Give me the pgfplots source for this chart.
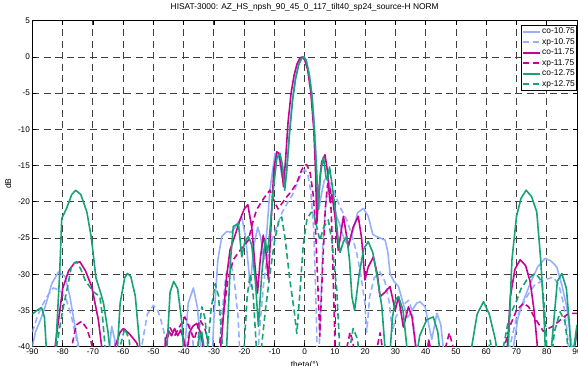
\documentclass[border=0pt]{standalone}
\usepackage{fontspec}
\setmainfont{Liberation Sans}
\usepackage{pgfplots}
\pgfplotsset{compat=1.18}
\definecolor{cblue}{RGB}{150,176,255}
\definecolor{cmag}{RGB}{200,0,150}
\definecolor{cgreen}{RGB}{22,163,120}
\begin{document}
\begin{tikzpicture}
\begin{axis}[
  name=ax,
  scale only axis,
  width=544.6pt, height=325.8pt,
  xmin=-90, xmax=90, ymin=-40, ymax=5,
  xtick={-90,-80,...,90},
  xticklabels={-90,-80,-70,-60,-50,-40,-30,-20,-10,0,10,20,30,40,50,60,70,80,90},
  ytick={-40,-35,...,5},
  yticklabels={-40,-35,-30,-25,-20,-15,-10,-5,0,5},
  tick align=inside, xtick pos=both, ytick pos=both,
  major tick length=4pt,
  tick style={black, line width=0.8pt},
  ticklabel style={font=\fontsize{8.2}{9}\selectfont},
  xticklabel style={yshift=1pt},
  yticklabel style={xshift=1pt},
  axis line style={black, line width=1pt},
  grid=major,
  major grid style={black!75, line width=0.9pt, dash pattern=on 7pt off 4.5pt},
  title={HISAT-3000: AZ\_HS\_npsh\_90\_45\_0\_117\_tilt40\_sp24\_source-H NORM},
  title style={font=\fontsize{8.4}{9}\selectfont, at={(0.5,1)}, anchor=south, yshift=2pt, inner sep=1pt},
  xlabel={theta(°)},
  xlabel style={font=\fontsize{8.4}{9}\selectfont, at={(axis description cs:0.5,0)}, anchor=north, yshift=-15pt, inner sep=0pt},
  ylabel={dB},
  ylabel style={font=\fontsize{8.4}{9}\selectfont, at={(axis description cs:-0.0448,0.5)}, anchor=center, rotate=0},
  legend style={at={(1,1)}, anchor=north east, yshift=-4.5pt, draw=black, line width=0.6pt,
    font=\fontsize{8.4}{9.6}\selectfont, inner xsep=1pt, inner ysep=1.5pt, row sep=1.6pt,
    nodes={inner sep=0.8pt}},
  legend cell align=left,
  legend image code/.code={\draw[#1, line width=2pt] plot coordinates {(0pt,0pt) (17pt,0pt)};},
  every axis plot/.append style={line width=1.6pt, line join=round},
]
% co-10.75
\addplot[cblue] coordinates {
(-90,-40) (-89,-38) (-87.5,-36.5) (-85.8,-34.5) (-83.6,-31.3) (-81.4,-29.7) (-79.2,-30.3) (-77.6,-33.1) (-76,-37) (-74.3,-41) (-73,-45)
(-65,-45) (-64.5,-40) (-63.8,-37.2) (-62.8,-39) (-62,-45)
(-40,-45) (-39.6,-40) (-38.5,-34) (-36.8,-31.9) (-35.5,-34.5) (-34.3,-40) (-33.5,-45)
(-31,-45) (-30,-36) (-28.7,-28) (-27.4,-24.8) (-25.8,-24.1) (-24.2,-24.2) (-22.5,-23.2) (-20.8,-22.1) (-19.5,-25) (-18,-31.7) (-16.8,-26) (-15.5,-23.5) (-14.5,-25) (-13.5,-28) (-12.5,-24) (-11.5,-18.4) (-9.8,-13.3) (-8.6,-13.6) (-7.5,-16.5) (-6.5,-17.5) (-5.8,-15) (-5,-10) (-4,-5.5) (-3,-2.7) (-2,-1) (-1,-0.1) (-0.3,0) (0.5,-0.4) (1.5,-2.3) (2.5,-5.5) (3.3,-10) (4,-16) (4.7,-21) (5.5,-19) (6.5,-17) (7.5,-16.5) (8.4,-17.9) (9.5,-20) (10.5,-22) (11.5,-23) (12.5,-24.5) (13.5,-25.5) (14.5,-26) (16,-24) (17.5,-21.5) (19.4,-20.9) (21,-22) (22.5,-24.5) (23.8,-24.8) (26.6,-25.3) (27.5,-27) (28.2,-29.9) (29.5,-31) (31,-31.7) (32.5,-34) (34,-36) (35.5,-35) (37,-34) (38.1,-33.8) (39.8,-34.5) (41,-37) (42,-39) (43.7,-35.4) (45,-37) (46,-41) (47,-45)
(68,-45) (69,-40) (70.5,-36) (72,-34) (74.5,-31.3) (77,-29) (79.5,-27.8) (81.5,-28.2) (83.3,-29) (85,-31.5) (86.6,-34.5) (88.3,-40) (89,-45) (90,-45)
};
\addlegendentry{co-10.75}
% xp-10.75
\addplot[cblue, dash pattern=on 6pt off 3.5pt] coordinates {
(-90,-38) (-88.5,-36) (-87,-34.5) (-85,-33) (-83.1,-31.9) (-80.9,-32.2) (-78.7,-33.6) (-77,-36) (-75.4,-39.1) (-74.5,-42) (-73.5,-45)
(-55,-45) (-53.9,-40) (-52,-35.5) (-50,-34.3) (-48.8,-34.8) (-47.8,-35.9) (-46.5,-38) (-45.5,-41) (-44.5,-45)
(-40,-45) (-39,-40) (-38,-37) (-37,-39) (-36,-45)
(-29,-45) (-27.5,-36) (-26,-30) (-24.7,-28.3) (-23.5,-30) (-22,-36) (-21,-45)
(-16,-45) (-15,-38) (-13.5,-31) (-12.5,-28) (-11,-25.5) (-9.2,-23.4) (-7.5,-21.5) (-5.5,-20) (-4,-19) (-2.5,-17.5) (-1,-16) (0.1,-15.6) (1,-16.2) (2,-18.5) (3,-24) (3.8,-35) (4.3,-45) (5,-38) (6,-26) (7,-20) (8,-17.5) (9,-17.4) (10,-19) (12,-21) (13.9,-22.5) (15.5,-24.5) (17.2,-27.1) (18.5,-30) (19.9,-34) (20.5,-38) (21.5,-33) (23,-30.5) (24.9,-29.7) (26.5,-31) (28,-34) (29,-38) (30,-36) (32,-34.5) (34.3,-33.6) (35.5,-35) (36.5,-39) (37.5,-45)
(67,-45) (67.8,-40) (70,-36) (73.4,-33.1) (76,-31.5) (79,-30.8) (82.2,-30.4) (84,-31.5) (85.5,-34) (86.5,-37) (87.2,-40) (88,-45) (90,-45)
};
\addlegendentry{xp-10.75}
% co-11.75
\addplot[cmag] coordinates {
(-90,-45) (-84,-45) (-82.5,-40) (-80,-32) (-78,-29.5) (-76,-28.4) (-74.3,-28.3) (-72.5,-29.5) (-70.4,-31.7) (-68.2,-36.3) (-67.1,-40) (-66,-45)
(-63,-45) (-62.7,-40) (-61,-38) (-59.9,-37.5) (-58,-38.2) (-55.5,-39.5) (-54.4,-41) (-52,-45)
(-47,-45) (-46,-39) (-45,-37.8) (-44,-38.5) (-43,-37.5) (-42,-38.5) (-41,-37.7) (-40,-39) (-39,-41) (-38,-38) (-37,-37.2) (-35.7,-36.8) (-34.5,-38) (-33,-41) (-31,-45)
(-29,-45) (-27.4,-38.6) (-26,-31) (-24.7,-26.7) (-23,-24.6) (-21.4,-22.5) (-20,-21) (-18.8,-20.4) (-17.5,-23.5) (-16.4,-29) (-15.6,-32.6) (-14.7,-28) (-13.7,-24.6) (-12.8,-27) (-12,-30.8) (-11,-22) (-10.2,-15.5) (-9.2,-13.1) (-8.5,-13.3) (-7.5,-16) (-7,-17.9) (-6.3,-14) (-5.5,-9) (-4.5,-5) (-3.5,-2.5) (-2.5,-0.9) (-1.5,-0.1) (-0.8,0) (0,-0.4) (1,-1.8) (2,-4.8) (3,-10) (3.6,-16) (4,-23) (4.8,-18) (5.6,-14.5) (6.7,-13.5) (7.6,-16) (8.3,-20) (9,-19) (10,-22) (11.1,-26.7) (12.8,-22) (14.4,-26.2) (16,-23.5) (17.7,-22) (18.8,-25) (19.9,-30.8) (21,-29) (22.7,-27.6) (24,-30) (24.9,-33.1) (26.5,-32.5) (28.2,-31.7) (29.9,-35) (31,-33.1) (32.6,-37.3) (34.3,-34.5) (35.5,-36) (37,-41) (38,-45) (40,-42) (41,-39.1) (42,-41) (43,-45)
(66,-45) (67,-40) (68,-33) (69.5,-29.3) (71.2,-28) (73,-28.8) (74.5,-31) (75.8,-35) (76.9,-40) (78,-45) (83,-45) (84,-41) (85,-40) (86,-41) (87,-45) (88.5,-43) (89.2,-40) (90,-38)
};
\addlegendentry{co-11.75}
% xp-11.75
\addplot[cmag, dash pattern=on 6pt off 3.5pt] coordinates {
(-90,-45) (-78,-45) (-77,-40) (-75.5,-37) (-73.7,-36.5) (-72,-37.5) (-70.5,-39.5) (-69.5,-42) (-68,-45)
(-47,-45) (-46,-40) (-44.5,-37.4) (-43,-38.5) (-41,-37) (-39.6,-35.9) (-38,-37.5) (-36.5,-39) (-34.6,-36.3) (-33,-37.5) (-31.5,-40) (-30,-45)
(-28.5,-41) (-27,-36) (-25.5,-31) (-23.6,-28) (-21,-26.5) (-18.6,-25.3) (-17.3,-23) (-15.9,-21.1) (-13.5,-19.5) (-11.5,-18.4) (-10,-20) (-8.8,-21) (-7.5,-20.2) (-5.9,-19.3) (-4.5,-18.6) (-2.6,-17.4) (-1,-15.6) (0,-14.9) (0.7,-14.9) (1.8,-16) (2.8,-19) (3.5,-23) (4.2,-30) (5,-38.6) (5.8,-30) (6.8,-21) (7.6,-17.5) (8.4,-17.9) (9,-24) (9.6,-33) (10,-40) (10.5,-45)
(13,-45) (14,-40) (15,-38) (16,-39.5) (17,-45) (23,-45) (24,-40) (24.9,-38.1) (26,-41) (27,-45)
(45,-45) (46,-41) (47.8,-38.1) (49,-40) (50,-45)
(65,-45) (66,-40) (68,-37) (70,-35) (72.3,-34) (74,-34.5) (76,-36) (78.9,-37.9) (80.5,-37.5) (82,-37.2) (84,-36.5) (86.6,-35.6) (88,-35.4) (90,-35.4)
};
\addlegendentry{xp-11.75}
% co-12.75
\addplot[cgreen] coordinates {
(-90,-35.5) (-88.5,-35) (-87,-34.6) (-86,-36) (-85.3,-41) (-84,-45) (-82.5,-42) (-81,-30) (-80.3,-22.3) (-78.7,-20.9) (-77,-19) (-75.7,-18.4) (-74,-19) (-72,-21.4) (-70.5,-25) (-69,-30.5) (-67.5,-32.5) (-66.5,-34) (-65,-38) (-64,-42) (-63,-45)
(-62,-41) (-61,-34) (-59.5,-30.5) (-58.6,-29.9) (-57.5,-30.3) (-56,-33) (-54.5,-40) (-53,-45)
(-46,-45) (-45.5,-40) (-44.5,-32.5) (-43.3,-31) (-42,-32) (-40.5,-37) (-40,-41) (-39,-45)
(-36,-45) (-35,-39) (-34,-38) (-33,-41) (-32,-45)
(-27,-45) (-25.8,-40) (-24.5,-28) (-23.6,-23.4) (-21.9,-23) (-20.8,-27.6) (-19.8,-25.5) (-18.6,-24.8) (-17.5,-26) (-16.3,-31) (-15.3,-37.2) (-14.2,-30) (-13.1,-25.3) (-12.3,-27) (-11.5,-24) (-10.4,-18.4) (-9.2,-14) (-8.2,-13.3) (-7.3,-15) (-6.6,-18.4) (-6,-16) (-5,-10.5) (-4,-6) (-3,-3) (-2,-1.1) (-1,-0.2) (-0.3,0) (0.5,-0.5) (1.5,-2.5) (2.3,-5) (3,-9) (3.7,-14) (4.5,-21) (5.2,-16) (6.2,-13.8) (7,-16.5) (7.5,-17) (8.2,-15.2) (9,-17.5) (10,-20.7) (11,-25) (11.7,-27) (12.8,-25.5) (13.9,-24.8) (14.8,-28) (15.6,-33.1) (16.5,-35) (18,-30) (19.5,-26.5) (21,-25.5) (22.5,-27) (24,-30.5) (25.5,-34.5) (26.5,-40) (27.5,-45)
(29,-36) (30,-33.5) (31,-33.1) (32.5,-35) (34,-41) (35.5,-45) (38,-38.5) (40.3,-36.3) (42.5,-35.9) (44,-38) (45,-42) (46,-45)
(54,-45) (55.2,-40) (57,-35.5) (59.1,-33.8) (61,-35.5) (63,-39) (64,-42) (66,-45)
(67.3,-40) (68.5,-28) (70,-22) (71.5,-19.5) (73.2,-18.4) (75,-19.3) (76.7,-21.4) (78,-28) (79,-35) (79.5,-40) (80.5,-45) (82,-38) (83.5,-31) (85,-29.9) (86.5,-32) (87.5,-37) (88,-41) (89,-40) (90,-37)
};
\addlegendentry{co-12.75}
% xp-12.75
\addplot[cgreen, dash pattern=on 6pt off 3.5pt] coordinates {
(-90,-45) (-83,-45) (-82,-40) (-80,-35) (-78.5,-32) (-77,-28.7) (-75.4,-28.3) (-74,-29.3) (-72.6,-30.8) (-69.9,-32.4) (-67.7,-33.1) (-66.8,-36) (-66,-40) (-65,-45)
(-62,-45) (-61,-40) (-59.5,-37.5) (-58,-39) (-57,-45)
(-36,-45) (-35,-38) (-34,-34.5) (-33,-36) (-32,-40) (-31,-35) (-29.6,-31.3) (-28.5,-33) (-27.5,-38) (-26.5,-45)
(-21,-45) (-20,-40) (-19,-33) (-18,-30) (-17,-33) (-16,-40) (-14.5,-41) (-13,-35) (-11.5,-30) (-10,-25.5) (-8.5,-22.5) (-7.6,-22.1) (-6.5,-25) (-4.9,-30.8) (-3.5,-35) (-2.6,-38.2) (-1.5,-32) (-0.5,-26) (0.7,-22.5) (2,-21.5) (2.9,-21.4) (4,-23.5) (5,-25.3) (6.3,-23.5) (7.8,-22.5) (9,-25.5) (10.6,-32.2) (11.3,-38) (11.7,-42) (12.5,-45)
(14,-45) (15,-40) (16,-37.5) (17.5,-39) (18.5,-45)
(60,-45) (60.5,-41) (61.3,-39.1) (62,-41) (63,-45)
(65,-45) (65.7,-40) (67.5,-36) (70.1,-33.6) (71.5,-32) (73.4,-30.8) (76.1,-29.9) (77.5,-30.5) (78.5,-31.3) (79.3,-35) (80,-40) (80.5,-45) (81.5,-42) (82.5,-38) (84.4,-35.2) (86,-36.5) (87,-40) (88,-45) (89,-40) (90,-38)
};
\addlegendentry{xp-12.75}
\end{axis}
\pgfresetboundingbox
\path ([xshift=-32.4pt,yshift=-18.4pt]ax.south west) rectangle ([xshift=1pt,yshift=20.8pt]ax.north east);
\end{tikzpicture}
\end{document}
